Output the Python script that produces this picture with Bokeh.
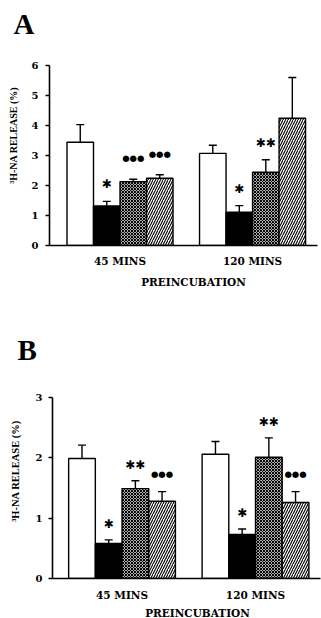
import math
from bokeh.plotting import figure
from bokeh.layouts import column, row
from bokeh.models import (Range1d, FixedTicker, ColumnDataSource,
                          Whisker, TeeHead, LabelSet)
from bokeh.core.properties import value
from bokeh.embed import file_html
from bokeh.resources import INLINE

# Preincubation periods (x categories)
groups = ["45 MINS", "120 MINS"]

# Panel A: 3H-NA release (%) — mean and SEM for each treatment
a_control = [3.44, 3.07]
a_control_sem = [0.59, 0.27]
a_black = [1.32, 1.11]
a_black_sem = [0.15, 0.22]
a_cross = [2.13, 2.44]
a_cross_sem = [0.08, 0.42]
a_diag = [2.24, 4.24]
a_diag_sem = [0.12, 1.36]
a_sig = [["", ""], ["\u2731", "\u2731"], ["\u25cf\u25cf\u25cf", "\u2731\u2731"], ["\u25cf\u25cf\u25cf", "\u2731\u2731"]]
a_ticks = [0, 1, 2, 3, 4, 5, 6]

# Panel B
b_control = [1.99, 2.06]
b_control_sem = [0.22, 0.21]
b_black = [0.58, 0.73]
b_black_sem = [0.06, 0.09]
b_cross = [1.49, 2.01]
b_cross_sem = [0.13, 0.32]
b_diag = [1.28, 1.26]
b_diag_sem = [0.16, 0.18]
b_sig = [["", ""], ["\u2731", "\u2731"], ["\u2731\u2731", "\u2731\u2731"], ["\u25cf\u25cf\u25cf", "\u25cf\u25cf\u25cf"]]
b_ticks = [0, 1, 2, 3]

Y_TITLE = "\u00b3H-NA RELEASE (%)"
X_TITLE = "PREINCUBATION"

SERIF = "DejaVu Serif"
OFFSETS = [-0.3, -0.1, 0.1, 0.3]
STYLES = [
    dict(fill_color="white"),
    dict(fill_color="black"),
    dict(fill_color="white", hatch_pattern="diagonal_cross", hatch_scale=3,
         hatch_weight=1.2, hatch_color="black"),
    dict(fill_color="white", hatch_pattern="right_diagonal_line", hatch_scale=5,
         hatch_weight=1.1, hatch_color="black"),
]


def strip(w, h):
    """Plain drawing area (pixel coordinates, y down) for titles and panel letters."""
    s = figure(width=w, height=h, output_backend="svg", toolbar_location=None,
               x_range=Range1d(0, w), y_range=Range1d(h, 0),
               x_axis_type=None, y_axis_type=None,
               min_border=0, min_border_left=0, min_border_right=0,
               min_border_top=0, min_border_bottom=0)
    s.outline_line_color = None
    s.grid.visible = False
    return s


def size_for(labels):
    # dots are drawn smaller than the asterisks
    return ["8.5px" if t.startswith("\u25cf") else "12px" for t in labels]


def bars(means, sems, sigs, ticks, g):
    p = figure(width=321 - g["W"], height=g["M"], output_backend="svg",
               toolbar_location=None,
               x_range=Range1d(*g["xr"]), y_range=Range1d(0, ticks[-1]),
               min_border_left=g["left"], min_border_right=g["right"],
               min_border_top=g["top"], min_border_bottom=g["bottom"])
    p.outline_line_color = None
    p.grid.visible = False

    for k in range(4):
        xs = [i + OFFSETS[k] for i in range(len(groups))]
        uppers = [m + s for m, s in zip(means[k], sems[k])]
        offs = [g["dot_off"] if t.startswith("\u25cf") else g["sig_off"] for t in sigs[k]]
        src = ColumnDataSource(dict(x=xs, top=means[k], upper=uppers, sig=sigs[k],
                                    fs=size_for(sigs[k]), off=offs))
        p.vbar(x="x", top="top", bottom=0, width=0.2, source=src,
               line_color="black", line_width=1.4, **STYLES[k])
        p.add_layout(Whisker(source=src, base="x", lower="top", upper="upper",
                             dimension="height", lower_head=None,
                             upper_head=TeeHead(size=8, line_width=1.4),
                             line_width=1.4, line_color="black"))
        p.add_layout(LabelSet(source=src, x="x", y="upper", text="sig",
                              y_offset="off", text_align="center",
                              text_baseline="middle", text_font=value("DejaVu Sans"),
                              text_font_size="fs", text_color="black"))

    p.xaxis.ticker = FixedTicker(ticks=list(range(len(groups))))
    p.xaxis.major_label_overrides = {i: name for i, name in enumerate(groups)}
    p.xaxis.major_tick_line_color = None
    p.xaxis.minor_tick_line_color = None
    p.xaxis.axis_line_width = 1.6
    p.xaxis.major_label_standoff = g["xstand"]
    p.xaxis.major_label_text_font = SERIF
    p.xaxis.major_label_text_font_style = "bold"
    p.xaxis.major_label_text_font_size = "10.5px"
    p.xaxis.major_label_text_color = "black"

    p.yaxis.ticker = FixedTicker(ticks=ticks)
    p.yaxis.minor_tick_line_color = None
    p.yaxis.major_tick_out = 4
    p.yaxis.major_tick_in = 0
    p.yaxis.axis_line_width = 1.6
    p.yaxis.major_tick_line_width = 1.3
    p.yaxis.major_label_standoff = g["ystand"]
    p.yaxis.major_label_text_font = SERIF
    p.yaxis.major_label_text_font_style = "bold"
    p.yaxis.major_label_text_font_size = "10px"
    p.yaxis.major_label_text_color = "black"
    return p


def panel(letter, means, sems, sigs, ticks, g):
    top = strip(321, g["T"])
    top.text(x=[g["letter"][0]], y=[g["letter"][1]], text=[letter],
             text_font=value("Liberation Serif"), text_font_style="bold",
             text_font_size=value("29px"), text_baseline="middle", text_color="black")

    left = strip(g["W"], g["M"])
    left.text(x=[g["ylab"][0]], y=[g["ylab"][1]], text=[Y_TITLE], angle=math.pi / 2,
              text_font=value("Liberation Serif"), text_font_style="bold",
              text_font_size=value(g["ylab_size"]), text_align="center",
              text_baseline="middle", text_color="black")

    bottom = strip(321, g["Bt"])
    bottom.text(x=[g["xlab"][0]], y=[g["xlab"][1]], text=[X_TITLE],
                text_font=value(SERIF), text_font_style="bold",
                text_font_size=value("10.5px"), text_align="center",
                text_baseline="middle", text_color="black")

    main = bars(means, sems, sigs, ticks, g)
    return column(top, row(left, main, spacing=0), bottom, spacing=0)


pa = panel("A", [a_control, a_black, a_cross, a_diag],
           [a_control_sem, a_black_sem, a_cross_sem, a_diag_sem], a_sig, a_ticks,
           dict(T=40, M=232, Bt=37, W=28,
                xr=(-0.532, 1.490), left=21, right=4, top=25, bottom=27,
                sig_off=17, dot_off=21, xstand=3, ystand=7,
                letter=(13, 23), ylab=(13, 90), ylab_size="10px", xlab=(193, 9)))

pb = panel("B", [b_control, b_black, b_cross, b_diag],
           [b_control_sem, b_black_sem, b_cross_sem, b_diag_sem], b_sig, b_ticks,
           dict(T=60, M=234, Bt=15, W=28,
                xr=(-0.521, 1.487), left=24, right=1, top=28, bottom=25,
                sig_off=16, dot_off=18, xstand=4, ystand=6,
                letter=(17, 40), ylab=(15, 95), ylab_size="10.5px", xlab=(197, 9)))

layout = column(pa, pb, spacing=0)
open("out.html", "w").write(file_html(layout, INLINE))
